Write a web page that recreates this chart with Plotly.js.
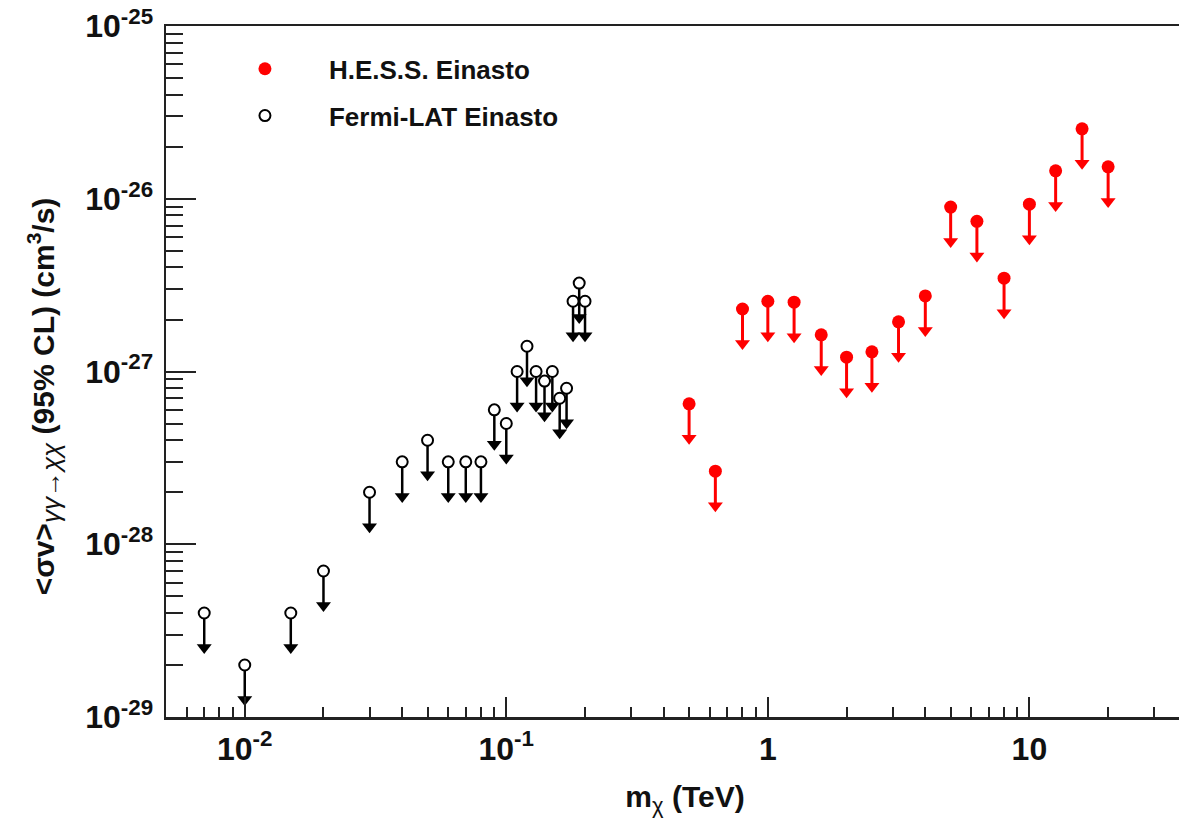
<!DOCTYPE html>
<html><head><meta charset="utf-8">
<script src="https://cdn.plot.ly/plotly-3.0.1.min.js"></script>
<style>html,body{margin:0;padding:0;background:#fff;overflow:hidden}</style>
</head><body><div id="chart" style="width:1179px;height:825px"></div>
<script>
// ---- data ----
const hessMass = [0.5, 0.63, 0.8, 1.0, 1.26, 1.6, 2.0, 2.5, 3.16, 4.0, 5.0, 6.3, 8.0, 10, 12.6, 15.9, 20];
const hessLimit = [6.5e-28, 2.65e-28, 2.3e-27, 2.55e-27, 2.52e-27, 1.63e-27, 1.21e-27, 1.3e-27, 1.94e-27, 2.74e-27,
                   8.95e-27, 7.4e-27, 3.47e-27, 9.3e-27, 1.45e-26, 2.54e-26, 1.53e-26];
const fermiMass = [0.007, 0.01, 0.015, 0.02, 0.03, 0.04, 0.05, 0.06, 0.07, 0.08, 0.09, 0.1,
                   0.11, 0.12, 0.13, 0.14, 0.15, 0.16, 0.17, 0.18, 0.19, 0.2];
const fermiLimit = [4e-29, 2e-29, 4e-29, 7e-29, 2e-28, 3e-28, 4e-28, 3e-28, 3e-28, 3e-28, 6e-28, 5e-28,
                    1e-27, 1.4e-27, 1e-27, 8.8e-28, 1e-27, 7e-28, 8e-28, 2.55e-27, 3.25e-27, 2.55e-27];
const seriesNames = ['H.E.S.S. Einasto', 'Fermi-LAT Einasto'];
const xTickVals = [0.01, 0.1, 1, 10];
const xTickText = ['10<sup>-2</sup>', '10<sup>-1</sup>', '1', '10'];
const yTickVals = [1e-29, 1e-28, 1e-27, 1e-26, 1e-25];
const yTickText = ['10<sup>-29</sup>', '10<sup>-28</sup>', '10<sup>-27</sup>', '10<sup>-26</sup>', '10<sup>-25</sup>'];
const NB = '\u00a0', ZW = '\u200b';
const xTitle = ZW + NB.repeat(3) + 'm<sub><span style="font-size:22px;font-weight:normal">χ</span></sub> (TeV)';
const yTitle = '&lt;σv&gt;<sub><span style="font-size:26px;font-weight:normal"><i>γγ→χχ</i></span></sub> (95% CL) (cm<sup>3</sup>/s)' + NB.repeat(6) + ZW;

// ---- style ----
const FONT = 'Liberation Sans, Arial, Helvetica, sans-serif';
const HEAD_DEC = 0.2;   // arrow head offset, in decades below the limit
const STEM_DEC = 0.19;
const RED = '#ff0000', BLACK = '#000000';

function minorVals(lo, hi) {
  const out = [];
  for (let k = lo; k <= hi; k++) for (let d = 2; d <= 9; d++) out.push(d * Math.pow(10, k));
  return out;
}
const stem = v => v * (1 - Math.pow(10, -STEM_DEC));
const head = v => v * Math.pow(10, -HEAD_DEC);

const traces = [
  { // HESS arrow heads
    x: hessMass, y: hessLimit.map(head), mode: 'markers', type: 'scatter', showlegend: false, hoverinfo: 'skip',
    marker: {symbol: 'triangle-down', size: 13, color: RED}
  },
  { // Fermi arrow heads
    x: fermiMass, y: fermiLimit.map(head), mode: 'markers', type: 'scatter', showlegend: false, hoverinfo: 'skip',
    marker: {symbol: 'triangle-down', size: 13, color: BLACK}
  },
  {
    name: seriesNames[0], legendgroup: 'hess',
    x: hessMass, y: hessLimit, mode: 'markers', type: 'scatter',
    marker: {symbol: 'circle', size: 13, color: RED},
    error_y: {type: 'data', symmetric: false, array: hessLimit.map(() => 0), arrayminus: hessLimit.map(stem),
              color: RED, thickness: 3, width: 0}
  },
  {
    name: seriesNames[1], legendgroup: 'fermi',
    x: fermiMass, y: fermiLimit, mode: 'markers', type: 'scatter',
    marker: {symbol: 'circle', size: 11, color: '#ffffff', line: {color: BLACK, width: 2}},
    error_y: {type: 'data', symmetric: false, array: fermiLimit.map(() => 0), arrayminus: fermiLimit.map(stem),
              color: BLACK, thickness: 2.5, width: 0}
  }
];

const layout = {
  width: 1179, height: 825,
  margin: {l: 166, r: 0, t: 26, b: 108, pad: 0},
  paper_bgcolor: '#ffffff', plot_bgcolor: '#ffffff',
  font: {family: FONT, color: BLACK, weight: 'bold'},
  hovermode: false,
  showlegend: true,
  legend: {
    x: 0.0345, y: 0.972, xanchor: 'left', yanchor: 'top',
    font: {family: FONT, size: 26, weight: 'bold', color: '#111'},
    itemwidth: 118, tracegroupgap: 10, traceorder: 'grouped', bgcolor: 'rgba(0,0,0,0)', borderwidth: 0
  },
  xaxis: {
    type: 'log', range: [Math.log10(0.005), 1.572],
    tickmode: 'array', tickvals: xTickVals, ticktext: xTickText,
    ticks: 'inside', ticklen: 20, tickwidth: 2, tickcolor: '#222',
    tickfont: {family: FONT, size: 32, weight: 'bold', color: '#111'},
    ticklabelstandoff: 2,
    minor: {tickmode: 'array', tickvals: minorVals(-3, 1), ticks: 'inside', ticklen: 10, tickwidth: 2, tickcolor: '#222', showgrid: false},
    showline: true, linecolor: '#222', linewidth: 2.5, mirror: true,
    showgrid: false, zeroline: false,
    title: {text: xTitle, font: {family: FONT, size: 30, weight: 'bold', color: '#111'}, standoff: 20}
  },
  yaxis: {
    type: 'log', range: [-29, -25],
    tickmode: 'array', tickvals: yTickVals, ticktext: yTickText,
    ticks: 'inside', ticklen: 30, tickwidth: 2, tickcolor: '#222',
    tickfont: {family: FONT, size: 32, weight: 'bold', color: '#111'},
    ticklabelstandoff: 4,
    minor: {tickmode: 'array', tickvals: minorVals(-30, -25), ticks: 'inside', ticklen: 17, tickwidth: 2, tickcolor: '#222', showgrid: false},
    showline: true, linecolor: '#222', linewidth: 2.5, mirror: false,
    showgrid: false, zeroline: false,
    title: {text: yTitle, font: {family: FONT, size: 30, weight: 'bold', color: '#111'}, standoff: 22}
  }
};

Plotly.newPlot('chart', traces, layout, {displayModeBar: false, staticPlot: true});
</script>
</body></html>
